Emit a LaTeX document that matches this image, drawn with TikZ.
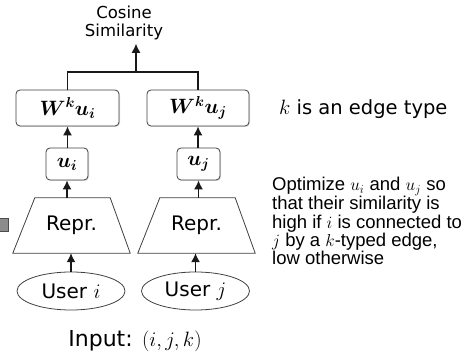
\documentclass[tikz,border=0pt]{standalone}
\usepackage{amsmath}
\usepackage{fontspec}
\usepackage{bm}
\setmainfont{DejaVu Sans}
\newfontfamily\arialf{Liberation Sans}
\usetikzlibrary{shapes.geometric,arrows.meta,shadows}
\begin{document}
\begin{tikzpicture}[x=1pt,y=-1pt,
  conn/.style={line width=1.3pt, draw=black!90},
  arr/.style={conn,-{Latex[length=9pt,width=9pt]}},
  vbox/.style={draw=black!75, line width=0.8pt, rounded corners=4pt, fill=white, inner sep=0pt,
     drop shadow={shadow xshift=1pt,shadow yshift=-1pt,opacity=0.25}},
  trapbox/.style={rectangle, minimum width=117pt, minimum height=55pt, inner sep=0pt,
     font=\fontsize{20}{24}\selectfont},
  trapline/.style={draw=black!75, line width=0.8pt},
  user/.style={ellipse, draw=black!75, line width=0.8pt, minimum width=108pt, minimum height=38pt,
     inner sep=0pt, font=\fontsize{20}{24}\selectfont},
  bigm/.style={font=\fontsize{22}{26}\selectfont},
]
\useasboundingbox (0,0) rectangle (469,358);

% gray square at left edge
\node[draw=black!70, fill=black!45, minimum width=13pt, minimum height=13pt, inner sep=0pt] (sq) at (1.5,224.5) {};

% label
\node[align=center, font=\fontsize{16.5}{18.5}\selectfont] (cos) at (124,23) {Cosine\\Similarity};

% W boxes
\node[vbox, bigm, minimum width=103pt, minimum height=36pt] (w1) at (67.5,108) {$\bm{W^k u_i}$};
\node[vbox, bigm, minimum width=102pt, minimum height=36pt] (w2) at (198,108) {$\bm{W^k u_j}$};

% u boxes
\node[vbox, bigm, minimum width=42pt, minimum height=32pt] (u1) at (67,164) {$\bm{u_i}$};
\node[vbox, bigm, minimum width=43pt, minimum height=32pt] (u2) at (198.5,164) {$\bm{u_j}$};

% representation trapezia
\node[trapbox] (r1) at (71.5,225.5) {Repr.};
\node[trapbox] (r2) at (196.5,225.5) {Repr.};
\foreach \r in {r1,r2}{
  \draw[trapline] (\r.south west) -- (\r.south east) -- ([xshift=-20pt]\r.north east)
     -- ([xshift=22pt]\r.north west) -- cycle;
}

% users
\node[user] (e1) at (71,291) {User $i$};
\node[user] (e2) at (195.5,291) {User $j$};

% input label
\node[anchor=base, font=\fontsize{22}{26}\selectfont] (inp) at (135,347) {Input: $(i,j,k)$};

% connectors
\coordinate (jn) at (136,72);
\draw[conn] (w1.north) |- (jn);
\draw[conn] (w2.north) |- (jn);
\draw[arr] (jn) -- (jn |- cos.south);
\draw[arr] (u1.north -| w1.south) -- (w1.south);
\draw[arr] (u2.north -| w2.south) -- (w2.south);
\draw[arr] (r1.north -| u1.south) -- (u1.south);
\draw[arr] (r2.north -| u2.south) -- (u2.south);
\draw[arr] (e1.north) -- (e1.north |- r1.south);
\draw[arr] (e2.north) -- (e2.north |- r2.south);

% right texts
\node[anchor=base west, inner sep=0pt, font=\fontsize{19.5}{23}\selectfont] (kt) at (279,115) {$k$ is an edge type};
\node[anchor=north west, inner sep=0pt, align=left, font=\arialf\fontsize{18.5}{18.3}\selectfont] (opt) at (272,177)
  {Optimize $u_i$ and $u_j$ so\\that their similarity is\\high if $i$ is connected to\\$j$ by a $k$-typed edge,\\low otherwise};
\end{tikzpicture}
\end{document}
